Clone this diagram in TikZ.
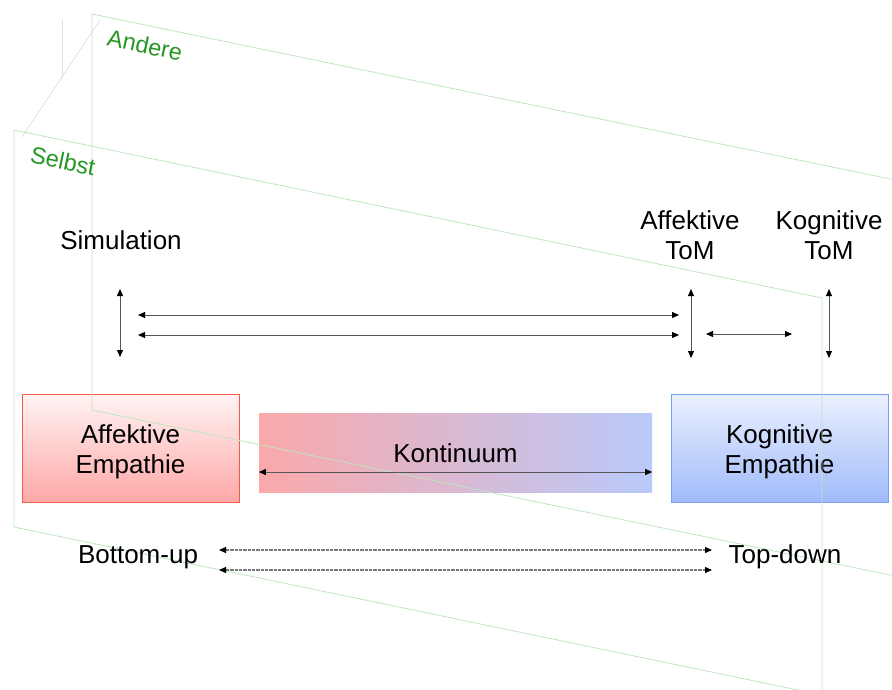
\documentclass[tikz,border=0pt]{standalone}
\usepackage{fontspec}
\setmainfont{Liberation Sans}
\usetikzlibrary{arrows.meta}
\definecolor{planec}{RGB}{190,230,190}
\definecolor{labgreen}{RGB}{35,150,35}
\definecolor{faint}{RGB}{218,224,232}
\definecolor{redtop}{RGB}{255,243,243}
\definecolor{redbot}{RGB}{255,168,168}
\definecolor{redline}{RGB}{245,90,70}
\definecolor{bluetop}{RGB}{236,241,255}
\definecolor{bluebot}{RGB}{160,186,250}
\definecolor{blueline}{RGB}{120,160,240}
\definecolor{kleft}{RGB}{250,168,170}
\definecolor{kright}{RGB}{185,202,250}
\definecolor{arrc}{RGB}{85,85,85}
\definecolor{dotc}{RGB}{120,120,120}
\tikzset{
  big/.style={font=\fontsize{26}{30}\selectfont, align=center, inner sep=0pt},
  planelabel/.style={font=\fontsize{23.5}{27}\selectfont, text=labgreen, rotate=-11.7, inner sep=0pt},
  plane/.style={draw=planec, line width=0.8pt},
  empbox/.style={minimum width=217pt, minimum height=108pt, line width=1pt},
  redbox/.style={empbox, draw=redline, top color=redtop, bottom color=redbot},
  bluebox/.style={empbox, draw=blueline, top color=bluetop, bottom color=bluebot},
  arr/.style={draw=arrc, line width=0.9pt, {Triangle[length=7pt,width=6pt,color=black]}-{Triangle[length=7pt,width=6pt,color=black]}},
  arrd/.style={draw=dotc, line width=1.3pt, dash pattern=on 0.8pt off 0.5pt, {Triangle[length=7pt,width=6pt,color=black]}-{Triangle[length=7pt,width=6pt,color=black]}}
}
\begin{document}
\begin{tikzpicture}[x=1pt,y=-1pt]
\useasboundingbox (0,0) rectangle (892,689);
\clip (0,0) rectangle (892,689);

% boxes
\node[redbox] (ae) at (130.5,448) {};
\node[big] (aet) at ([yshift=-4pt]ae.center) {Affektive\\Empathie};
\node[bluebox] (ke) at (779.5,448) {};
\node[big] (ket) at ([yshift=-4pt]ke.center) {Kognitive\\Empathie};
\node[minimum width=393pt, minimum height=79pt, left color=kleft, right color=kright] (kont) at (455.5,452.5) {};
\node[big] (kontt) at (455.5,453) {Kontinuum};

% faint perspective lines
\coordinate (f1) at (62,20); \coordinate (f2) at (62,78);
\coordinate (f3) at (100,20); \coordinate (f4) at (22,137);
\draw[faint, line width=0.8pt] (f1) -- (f2);
\draw[faint, line width=0.8pt] (f3) -- (f4);

% planes
\coordinate (a1) at (92,14); \coordinate (a2) at (900,181);
\coordinate (a3) at (900,577); \coordinate (a4) at (92,410);
\draw[plane] (a1) -- (a2) -- (a3) -- (a4) -- cycle;
\coordinate (s1) at (14,130); \coordinate (s2) at (822,298);
\coordinate (s3) at (822,695); \coordinate (s4) at (14,527);
\draw[plane] (s1) -- (s2) -- (s3) -- (s4) -- cycle;

\node[planelabel] (andere) at (145,45) {Andere};
\node[planelabel] (selbst) at (63,161) {Selbst};

% labels
\node[big] (sim) at (121,240) {Simulation};
\node[big] (atom) at (690,235) {Affektive\\ToM};
\node[big] (ktom) at (829,235) {Kognitive\\ToM};
\node[big] (bu) at (138,557) {Bottom-up};
\node[big] (td) at (785,557) {Top-down};

% arrows
\coordinate (simT) at (120,289); \coordinate (simB) at (120,357);
\draw[arr] (simT) -- (simB);
\coordinate (h1L) at (138,315); \coordinate (h1R) at (679,315);
\coordinate (h2L) at (138,335); \coordinate (h2R) at (679,335);
\draw[arr] (h1L) -- (h1R);
\draw[arr] (h2L) -- (h2R);
\coordinate (atT) at (691,289); \coordinate (atB) at (691,358);
\draw[arr] (atT) -- (atB);
\coordinate (mL) at (706,334); \coordinate (mR) at (792,334);
\draw[arr] (mL) -- (mR);
\coordinate (ktT) at (829,289); \coordinate (ktB) at (829,358);
\draw[arr] (ktT) -- (ktB);
\draw[arr] ([yshift=-19.5pt]kont.west) -- ([yshift=-19.5pt]kont.east);
\coordinate (d1L) at (219,550); \coordinate (d1R) at (712,550);
\coordinate (d2L) at (219,570); \coordinate (d2R) at (712,570);
\draw[arrd] (d1L) -- (d1R);
\draw[arrd] (d2L) -- (d2R);
\end{tikzpicture}
\end{document}
